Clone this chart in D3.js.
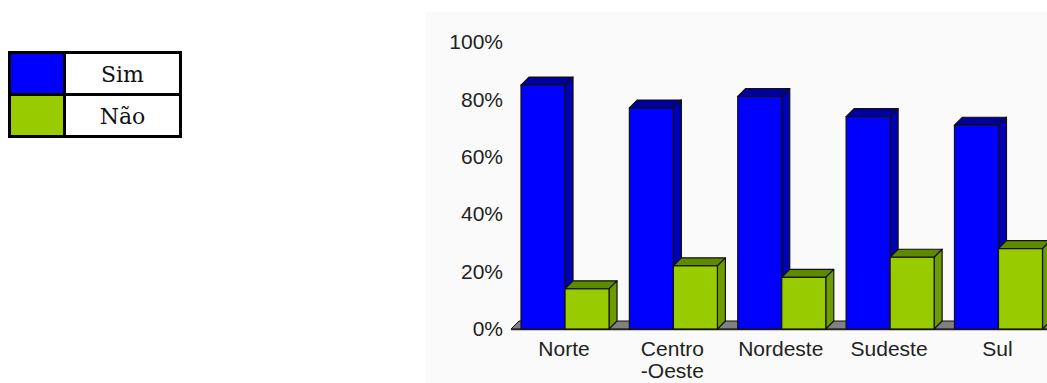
<!DOCTYPE html>
<html>
<head>
<meta charset="utf-8">
<script src="https://cdn.jsdelivr.net/npm/d3@7"></script>
<style>
  body { margin: 0; background: #fff; }
  svg { display: block; }
</style>
</head>
<body>
<svg width="1047" height="383"></svg>
<script>
let regions = ["Norte", "Centro\n-Oeste", "Nordeste", "Sudeste", "Sul"];
let series = ["Sim", "Não"];
let sim = [85, 77, 81, 74, 71];
let nao = [14, 22, 18, 25, 28];
let yTicks = [0, 20, 40, 60, 80, 100];

let colors = {
  "Sim": {front: "#0000ff", top: "#00009c", side: "#0000b4"},
  "Não": {front: "#99cc00", top: "#5e8a00", side: "#6e9c00"}
};

let svg = d3.select("svg");
let depth = 8;

let data = regions.map((r, i) => ({region: r, values: [
  {key: "Sim", value: sim[i]},
  {key: "Não", value: nao[i]}
]}));

// chart background
svg.append("rect")
  .attr("x", 426).attr("y", 12)
  .attr("width", 1047 - 426).attr("height", 383 - 12)
  .attr("fill", "#fafafa");

let x0 = d3.scaleBand()
  .domain(regions)
  .range([521, 1042.5])
  .paddingInner(0.1875)
  .paddingOuter(0);

let x1 = d3.scaleBand()
  .domain(series)
  .range([0, x0.bandwidth()]);

let y = d3.scaleLinear()
  .domain([0, 100])
  .range([329, 42]);

// y axis labels only
let yAxis = svg.append("g")
  .attr("transform", "translate(503,0)")
  .call(d3.axisLeft(y).tickValues(yTicks).tickSize(0).tickPadding(0).tickFormat(d => d + "%"));
yAxis.select(".domain").remove();
yAxis.selectAll("text")
  .attr("font-family", "Liberation Sans, Arial, sans-serif")
  .attr("font-size", 21)
  .attr("fill", "#222");

// floor
let fx0 = 511, fx1 = 1060, fy = y(0);
svg.append("path")
  .attr("d", `M${fx0},${fy} L${fx0 + depth},${fy - depth} L${fx1},${fy - depth} L${fx1},${fy} Z`)
  .attr("fill", "#808080")
  .attr("stroke", "#111")
  .attr("stroke-width", 1);
svg.append("line")
  .attr("x1", fx0).attr("x2", fx1)
  .attr("y1", fy + 0.5).attr("y2", fy + 0.5)
  .attr("stroke", "#222").attr("stroke-width", 1.5);

// bars
let groups = svg.append("g").selectAll("g")
  .data(data)
  .enter().append("g")
  .attr("transform", d => `translate(${x0(d.region)},0)`);

let bars = groups.selectAll("g")
  .data(d => d.values)
  .enter().append("g");

bars.append("path")
  .attr("d", d => {
    let l = x1(d.key), r = l + x1.bandwidth(), t = y(d.value);
    return `M${l},${t} L${l + depth},${t - depth} L${r + depth},${t - depth} L${r},${t} Z`;
  })
  .attr("fill", d => colors[d.key].top)
  .attr("stroke", "#111").attr("stroke-width", 1.2).attr("stroke-linejoin", "round");

bars.append("path")
  .attr("d", d => {
    let r = x1(d.key) + x1.bandwidth(), t = y(d.value), b = y(0);
    return `M${r},${t} L${r + depth},${t - depth} L${r + depth},${b - depth} L${r},${b} Z`;
  })
  .attr("fill", d => colors[d.key].side)
  .attr("stroke", "#111").attr("stroke-width", 1.2).attr("stroke-linejoin", "round");

bars.append("rect")
  .attr("x", d => x1(d.key))
  .attr("y", d => y(d.value))
  .attr("width", x1.bandwidth())
  .attr("height", d => y(0) - y(d.value))
  .attr("fill", d => colors[d.key].front)
  .attr("stroke", "#111").attr("stroke-width", 1.2);

// category labels
let labels = svg.append("g").selectAll("text")
  .data(regions)
  .enter().append("text")
  .attr("x", d => x0(d) + x0.bandwidth() / 2 - 1)
  .attr("y", 356)
  .attr("text-anchor", "middle")
  .attr("font-family", "Liberation Sans, Arial, sans-serif")
  .attr("font-size", 21)
  .attr("fill", "#222");
labels.selectAll("tspan")
  .data(d => d.split("\n"))
  .enter().append("tspan")
  .attr("x", function() { return d3.select(this.parentNode).attr("x"); })
  .attr("dy", (d, i) => i === 0 ? 0 : 22)
  .text(d => d);

// legend
let legend = svg.append("g");
let lx = 9.5, ly = 52.5, cw = 55, tw = 116, rh = 42;
series.forEach((s, i) => {
  legend.append("rect")
    .attr("x", lx).attr("y", ly + i * rh)
    .attr("width", cw).attr("height", rh)
    .attr("fill", colors[s].front);
  legend.append("text")
    .attr("x", lx + cw + tw / 2)
    .attr("y", ly + i * rh + rh / 2 + 8)
    .attr("text-anchor", "middle")
    .attr("font-family", "DejaVu Serif, serif")
    .attr("font-size", 22)
    .attr("fill", "#111")
    .text(s);
});
legend.append("rect")
  .attr("x", lx).attr("y", ly)
  .attr("width", cw + tw).attr("height", rh * 2)
  .attr("fill", "none").attr("stroke", "#000").attr("stroke-width", 3);
legend.append("line")
  .attr("x1", lx).attr("x2", lx + cw + tw)
  .attr("y1", ly + rh).attr("y2", ly + rh)
  .attr("stroke", "#000").attr("stroke-width", 3);
legend.append("line")
  .attr("x1", lx + cw).attr("x2", lx + cw)
  .attr("y1", ly).attr("y2", ly + rh * 2)
  .attr("stroke", "#000").attr("stroke-width", 3);
</script>
</body>
</html>
